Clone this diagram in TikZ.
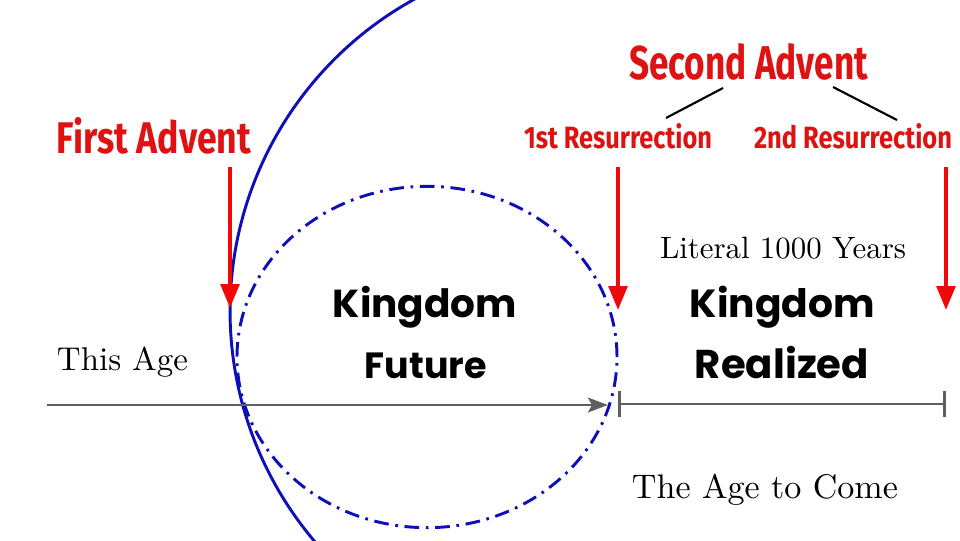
\documentclass[tikz,border=0pt]{standalone}
\usepackage{fontspec}
\usepackage{graphicx}
\usetikzlibrary{arrows.meta}
\newfontfamily\oswf{Fira Sans}
\newfontfamily\popf{Poppins}
\definecolor{advred}{RGB}{222,18,18}
\definecolor{arrred}{RGB}{238,10,10}
\definecolor{bblue}{RGB}{15,15,185}
\definecolor{axgray}{RGB}{95,95,95}
\tikzset{
  lbl/.style={anchor=base, inner sep=0pt, outer sep=0pt},
  redlbl/.style={lbl, text=advred},
  redarrow/.style={draw=arrred, line width=3pt, -{Triangle[length=18pt,width=14pt]}},
  brace/.style={draw=black, line width=1.6pt},
  axisline/.style={draw=axgray, line width=2.2pt},
  dashcircle/.style={draw=bblue, line width=2.2pt, dash pattern=on 11pt off 5pt on 2pt off 5pt},
  solidarc/.style={draw=bblue, line width=2.2pt}
}
\begin{document}
\begin{tikzpicture}[x=0.75pt,y=-0.75pt]
\useasboundingbox (0,0) rectangle (960,540);
% circles
\draw[dashcircle] (427,357) ellipse [x radius=142.5pt, y radius=128pt];
\begin{scope}
\clip (0,0) rectangle (960,540);
\coordinate (arcstart) at (435.6,-11.6);
\draw[solidarc] (arcstart) arc[start angle=115, end angle=225, radius=267pt];
\end{scope}
% timeline
\coordinate (ax0) at (47,405);
\coordinate (ax1) at (608,405);
\coordinate (ag0) at (618,404);
\coordinate (ag1) at (946,404);
\draw[axisline, -{Stealth[length=15pt,width=11pt,inset=3pt]}] (ax0) -- (ax1);
\draw[axisline, {Bar[width=20pt]}-{Bar[width=20pt]}] (ag0) -- (ag1);
% labels
\node[redlbl] (fa) at (154,153) {\resizebox{145.5pt}{27pt}{\oswf\bfseries First Advent}};
\node[redlbl] (sa) at (748.5,79) {\resizebox{179pt}{27pt}{\oswf\bfseries Second Advent}};
\node[redlbl] (r1) at (618,148) {\resizebox{141pt}{18.75pt}{\oswf\bfseries 1st Resurrection}};
\node[redlbl] (r2) at (853,148) {\resizebox{148.5pt}{18.75pt}{\oswf\bfseries 2nd Resurrection}};
\node[lbl] (lit) at (783,258) {\resizebox{184.5pt}{!}{Literal 1000 Years}};
\node[lbl] (ta) at (122.5,370) {\resizebox{98.25pt}{!}{This Age}};
\node[lbl] (tac) at (765,498) {\resizebox{199.5pt}{!}{The Age to Come}};
\node[lbl] (kf1) at (425,317) {\resizebox{138pt}{!}{\popf\bfseries Kingdom}};
\node[lbl] (kf2) at (426,378) {\resizebox{91.5pt}{!}{\popf\bfseries Future}};
\node[lbl] (kr1) at (782.5,317) {\resizebox{138.75pt}{!}{\popf\bfseries Kingdom}};
\node[lbl] (kr2) at (782,378) {\resizebox{130.5pt}{!}{\popf\bfseries Realized}};
% brace lines
\coordinate (b1s) at (723,88);
\coordinate (b1e) at (666,118);
\coordinate (b2s) at (833,87);
\coordinate (b2e) at (897,120);
\draw[brace] (b1s) -- (b1e);
\draw[brace] (b2s) -- (b2e);
% red arrows
\coordinate (fa0) at (230,167);
\coordinate (fa1) at (230,308);
\coordinate (r10) at (618,167);
\coordinate (r11) at (618,310);
\coordinate (r20) at (946,167);
\coordinate (r21) at (946,310);
\draw[redarrow] (fa0) -- (fa1);
\draw[redarrow] (r10) -- (r11);
\draw[redarrow] (r20) -- (r21);
\end{tikzpicture}
\end{document}
